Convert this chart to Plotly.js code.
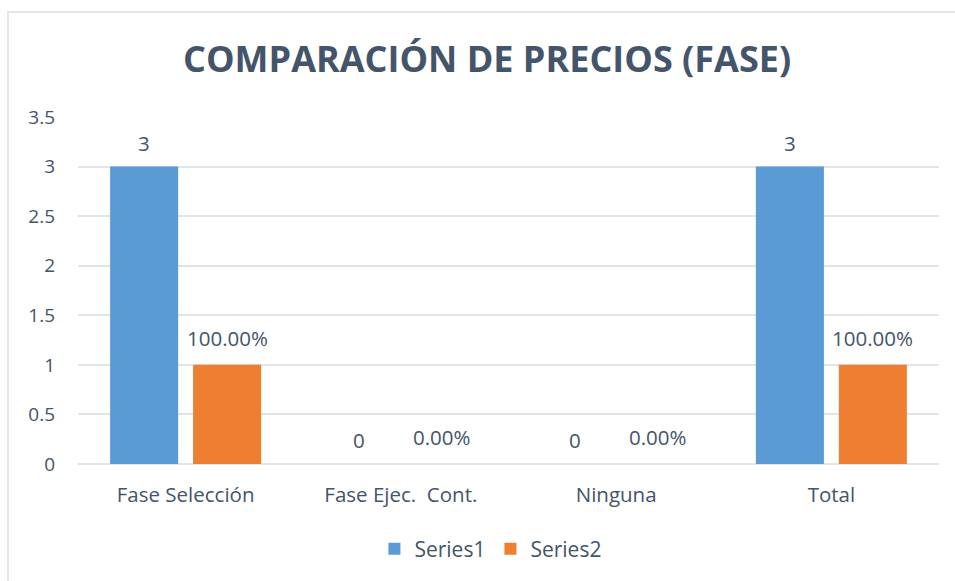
<!DOCTYPE html>
<html>
<head>
<meta charset="utf-8">
<script src="https://cdn.plot.ly/plotly-3.0.1.min.js"></script>
<style>
  html, body { margin: 0; padding: 0; background: #fff; }
  #wrap { position: relative; width: 955px; height: 581px; }
  #chart { position: absolute; left: 0; top: 0; width: 955px; height: 581px; }
  #frame { position: absolute; left: 7px; top: 11px; width: 960px; height: 600px;
           border-top: 2px solid #E3E6EA; border-left: 2px solid #E3E6EA; pointer-events: none; }
</style>
</head>
<body>
<div id="wrap">
  <div id="chart"></div>
  <div id="frame"></div>
</div>
<script>
const categories = ["Fase Selección", "Fase Ejec.  Cont.", "Ninguna", "Total"];
const series1 = [3, 0, 0, 3];
const series2 = [1, 0, 0, 1];
const seriesNames = ["Series1", "Series2"];
const yTicks = [0, 0.5, 1, 1.5, 2, 2.5, 3, 3.5];
const yTickLabels = ["0", "0.5", "1", "1.5", "2", "2.5", "3", "3.5"];

const txt = "#44546A";
const font = "Open Sans, Lato, sans-serif";

const traces = [
  {
    type: "bar", name: seriesNames[0], x: categories, y: series1,
    marker: { color: "#5B9BD5" }, hoverinfo: "skip"
  },
  {
    type: "bar", name: seriesNames[1], x: categories, y: series2,
    marker: { color: "#EE7F31" }, hoverinfo: "skip"
  }
];

const annotations = [];
categories.forEach((c, i) => {
  annotations.push({
    x: c, y: series1[i], xref: "x", yref: "y", text: String(series1[i]),
    showarrow: false, xanchor: "center", yanchor: "middle", xshift: -41.5, yshift: 24,
    font: { family: font, size: 20.5, color: txt }
  });
  annotations.push({
    x: c, y: series2[i], xref: "x", yref: "y", text: (series2[i] * 100).toFixed(2) + "%",
    showarrow: false, xanchor: "center", yanchor: "middle", xshift: 41.5, yshift: 27,
    font: { family: font, size: 20.5, color: txt }
  });
});

const layout = {
  width: 955, height: 581,
  paper_bgcolor: "rgba(0,0,0,0)", plot_bgcolor: "rgba(0,0,0,0)",
  margin: { l: 78, r: 16, t: 117, b: 117 },
  title: {
    text: "<b>COMPARACIÓN DE PRECIOS (FASE)</b>",
    x: 0.51, xanchor: "center", y: 0.897, yanchor: "middle",
    font: { family: font, size: 36, color: txt }
  },
  barmode: "group", bargap: 0.229, bargroupgap: 0.18,
  xaxis: {
    type: "category", showgrid: false, showline: false, ticks: "",
    tickfont: { family: font, size: 20.5, color: txt }, ticklabelstandoff: 16
  },
  yaxis: {
    range: [0, 3.5], tickvals: yTicks, ticktext: yTickLabels,
    showgrid: true, gridcolor: "#E1E4E9", gridwidth: 2,
    zeroline: true, zerolinecolor: "#E1E4E9", zerolinewidth: 2,
    showline: false, ticks: "", ticklabelstandoff: 22,
    tickfont: { family: font, size: 19, color: txt }
  },
  showlegend: true,
  legend: {
    orientation: "h", x: 0.479, xanchor: "center", y: -0.245, yanchor: "middle",
    font: { family: font, size: 21, color: txt }, itemwidth: 30, traceorder: "normal"
  },
  annotations: annotations
};

Plotly.newPlot("chart", traces, layout, { displayModeBar: false, staticPlot: true });
</script>
</body>
</html>
